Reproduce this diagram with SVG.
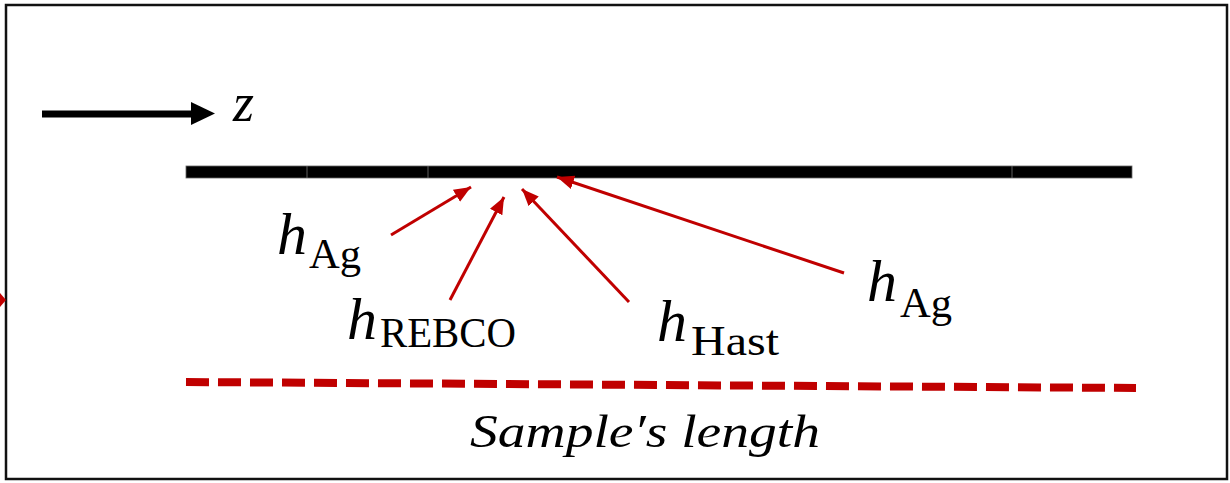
<svg xmlns="http://www.w3.org/2000/svg" width="1230" height="483" viewBox="0 0 1230 483">
<style>
.lbl{font-family:"Liberation Serif","DejaVu Serif",serif;fill:#000}
.it{font-style:italic}
.red{stroke:#C00000;stroke-width:3;fill:none}
</style>
<defs>
<marker id="ah" markerUnits="userSpaceOnUse" markerWidth="20" markerHeight="16" refX="17" refY="7" orient="auto">
<path d="M0,0 L17,7 L0,14 Z" fill="#C00000"/>
</marker>
</defs>
<rect x="0" y="0" width="1230" height="483" fill="#fff"/>
<rect x="6" y="5" width="1221" height="474" fill="none" stroke="#111" stroke-width="2.5"/>
<polygon points="0,293 6,300 0,307" fill="#C00000"/>

<g id="z-axis">
<line x1="42" y1="114" x2="193" y2="114" stroke="#000" stroke-width="7"/>
<polygon points="191,102 215,113.5 191,125" fill="#000"/>
<text class="lbl it" x="233" y="121" font-size="54">z</text>
</g>

<g id="tape">
<rect x="186" y="166" width="946" height="12" fill="#000" stroke="#666" stroke-width="0.8"/>
<line x1="307" y1="166" x2="307" y2="178" stroke="#777" stroke-width="0.8"/>
<line x1="428" y1="166" x2="428" y2="178" stroke="#777" stroke-width="0.8"/>
<line x1="1012" y1="166" x2="1012" y2="178" stroke="#777" stroke-width="0.8"/>
</g>

<g id="connectors">
<line class="red" x1="391" y1="235" x2="471" y2="187" marker-end="url(#ah)"/>
<line class="red" x1="450" y1="300" x2="504" y2="197" marker-end="url(#ah)"/>
<line class="red" x1="629" y1="302" x2="522" y2="189" marker-end="url(#ah)"/>
<line class="red" x1="844" y1="273" x2="557" y2="177" marker-end="url(#ah)"/>
</g>

<g id="label-hAg-1">
<text class="lbl" x="277" y="254"><tspan class="it" font-size="60">h</tspan><tspan font-size="42" x="309" y="268" textLength="52" lengthAdjust="spacingAndGlyphs">Ag</tspan></text>
</g>
<g id="label-hREBCO">
<text class="lbl" x="347" y="339"><tspan class="it" font-size="60">h</tspan><tspan font-size="42" x="380" y="347" textLength="136" lengthAdjust="spacingAndGlyphs">REBCO</tspan></text>
</g>
<g id="label-hHast">
<text class="lbl" x="657" y="341"><tspan class="it" font-size="60">h</tspan><tspan font-size="42" x="691" y="355" textLength="88" lengthAdjust="spacingAndGlyphs">Hast</tspan></text>
</g>
<g id="label-hAg-2">
<text class="lbl" x="867" y="301"><tspan class="it" font-size="60">h</tspan><tspan font-size="42" x="900" y="317" textLength="52" lengthAdjust="spacingAndGlyphs">Ag</tspan></text>
</g>

<g id="sample-length">
<line x1="186" y1="382" x2="1136" y2="388" stroke="#C00000" stroke-width="8" stroke-dasharray="23,9"/>
<text class="lbl it" x="470" y="447" font-size="46" textLength="350" lengthAdjust="spacingAndGlyphs">Sample′s length</text>
</g>
</svg>
